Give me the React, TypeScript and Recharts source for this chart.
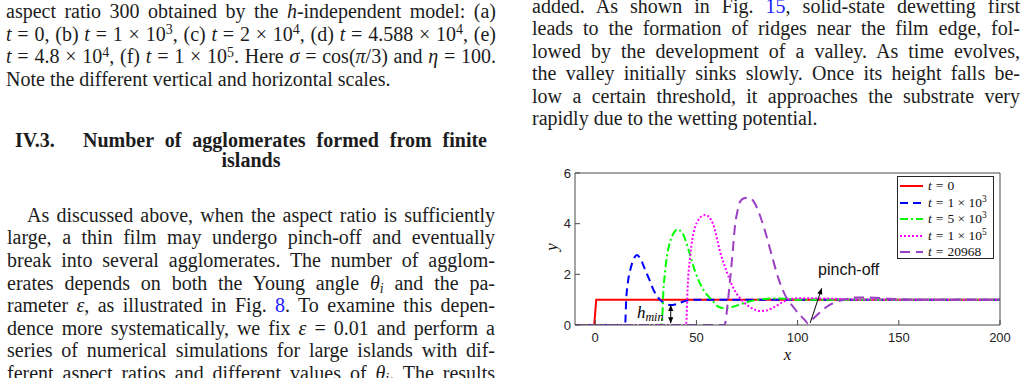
import React from 'react';
import { LineChart, Line, XAxis, YAxis, ReferenceLine, ReferenceDot, Legend, Label } from 'recharts';

// ---------- data ----------
const xTicks = [0, 50, 100, 150, 200];
const yTicks = [0, 2, 4, 6];

const t0X = [-10, -0.5, 0.5, 200];
const t0Y = [0, 0, 1, 1];

const t1e3X = [-10, 14, 14.8, 15.3, 16, 17.3, 18.5, 19.5, 20.6, 22, 24.7, 26.8, 28.8, 30.5, 32.1, 34, 36, 37.5, 39, 41, 43.6, 46, 50, 200];
const t1e3Y = [0, 0, 0.05, 1.0, 1.6, 2.17, 2.5, 2.68, 2.76, 2.66, 2.17, 1.78, 1.38, 1.15, 0.99, 0.86, 0.8, 0.79, 0.8, 0.85, 0.93, 0.98, 1.0, 1.0];

const t5e3X = [-10, 32.5, 33, 33.7, 34.5, 35.4, 36.5, 37.9, 39.3, 40.7, 42, 43.6, 46.1, 49.4, 53.5, 57.6, 60.9, 64.2, 68, 73.2, 79.8, 85, 90, 95, 100, 200];
const t5e3Y = [0, 0, 0.15, 1.38, 2.1, 2.7, 3.15, 3.49, 3.7, 3.78, 3.72, 3.55, 2.96, 2.1, 1.38, 0.99, 0.72, 0.66, 0.72, 0.86, 0.99, 1.04, 1.05, 1.03, 1.0, 1.0];

const t1e5X = [-10, 44.6, 45, 45.6, 46.9, 48, 49.4, 51, 52.7, 54.3, 56, 58.4, 61.7, 65, 68.3, 73.2, 78.2, 81.5, 84.5, 87.2, 90, 93, 96.3, 100, 110, 120, 130, 200];
const t1e5Y = [0, 0, 0.1, 1.38, 2.7, 3.4, 3.88, 4.15, 4.3, 4.34, 4.28, 3.95, 2.89, 2.1, 1.45, 0.92, 0.63, 0.55, 0.57, 0.66, 0.78, 0.92, 1.03, 1.06, 1.05, 1.03, 1.0, 1.0];

const t20968X = [-10, 63.8, 64.2, 65.5, 66.7, 68, 69.1, 70.3, 71.6, 73.5, 76.2, 78.5, 80.7, 84, 87.2, 90.5, 93.8, 97.1, 101.2, 103.5, 105, 107, 110, 114.4, 118, 122.6, 129.2, 135.8, 143.2, 150.6, 160, 200];
const t20968Y = [0, 0, 0.07, 0.9, 1.84, 2.95, 3.95, 4.5, 4.87, 5.0, 5.03, 4.85, 4.47, 3.68, 2.76, 1.84, 1.18, 0.79, 0.39, 0.2, 0.07, 0.2, 0.42, 0.72, 0.88, 0.99, 1.09, 1.09, 1.05, 1.01, 1.0, 1.0];

const seriesLabels = ['0', '1 × 10^3', '5 × 10^3', '1 × 10^5', '20968'];

const hminArrow = [{ x: 37.3, y: 0.07 }, { x: 37.3, y: 0.79 }];
const pinchArrow = [{ x: 106.2, y: 0.08 }, { x: 111.9, y: 1.45 }];
const hminLabelPos = { x: 20.6, y: 0.26 };
const pinchLabelPos = { x: 110.1, y: 1.97 };

const zip = (xs: number[], ys: number[]) => xs.map((x, i) => ({ x, y: ys[i] }));

const seriesStyles = [
  { color: '#ff0000', dash: undefined as string | undefined },
  { color: '#0000ff', dash: '8 5' },
  { color: '#00ff00', dash: '8 3 2 3' },
  { color: '#ff00ff', dash: '2 2' },
  { color: '#9b3fc4', dash: '10 6' },
];
const seriesData = [zip(t0X, t0Y), zip(t1e3X, t1e3Y), zip(t5e3X, t5e3Y), zip(t1e5X, t1e5Y), zip(t20968X, t20968Y)];

const SERIF = '"Liberation Serif", "Times New Roman", serif';
const SANS = '"Liberation Sans", Arial, sans-serif';
const AXIS = '#4a4a4a';

// ---------- helpers ----------
function arrowHead(x: number, y: number, ang: number, len = 6, half = 2.6) {
  const bx = x - len * Math.cos(ang);
  const by = y - len * Math.sin(ang);
  const px = -Math.sin(ang) * half;
  const py = Math.cos(ang) * half;
  return `${x},${y} ${bx + px},${by + py} ${bx - px},${by - py}`;
}

const DoubleArrow = (p: any) => {
  const { x1, y1, x2, y2 } = p;
  const a = Math.atan2(y2 - y1, x2 - x1);
  return (
    <g>
      <line x1={x1} y1={y1} x2={x2} y2={y2} stroke="#000" strokeWidth={1} />
      <polygon points={arrowHead(x2, y2, a)} fill="#000" />
      <polygon points={arrowHead(x1, y1, a + Math.PI)} fill="#000" />
    </g>
  );
};

const SingleArrow = (p: any) => {
  const { x1, y1, x2, y2 } = p;
  const a = Math.atan2(y2 - y1, x2 - x1);
  return (
    <g>
      <line x1={x1} y1={y1} x2={x2} y2={y2} stroke="#000" strokeWidth={1} />
      <polygon points={arrowHead(x2, y2, a)} fill="#000" />
    </g>
  );
};

const HminText = (p: any) => (
  <text x={p.cx} y={p.cy} fontFamily={SERIF} fontStyle="italic" fill="#000">
    <tspan fontSize={17}>h</tspan>
    <tspan fontSize={12} dy={3}>min</tspan>
  </text>
);

const PinchText = (p: any) => (
  <text x={p.cx} y={p.cy} fontFamily={SANS} fontSize={16} fill="#111">pinch-off</text>
);

function renderLabel(s: string) {
  const [base, exp] = s.split('^');
  return (
    <span>
      <i>t</i><span style={{ padding: '0 4px' }}>=</span>{base}
      {exp ? <sup style={{ fontSize: '0.7em', verticalAlign: 'baseline', position: 'relative', top: '-0.5em' }}>{exp}</sup> : null}
    </span>
  );
}

const LegendBox = () => (
  <div style={{ position: 'relative', width: 97, height: 83, boxSizing: 'border-box', border: '1px solid #262626', background: '#fff' }}>
    {seriesLabels.map((s, i) => (
      <div key={i} style={{ position: 'absolute', left: 2, top: 1 + 16.5 * i, height: 16, display: 'flex', alignItems: 'center', fontFamily: SERIF, fontSize: 13.5, color: '#111', whiteSpace: 'nowrap' }}>
        <svg width={23} height={6} style={{ marginRight: 5 }}>
          <line x1={0} y1={3} x2={23} y2={3} stroke={seriesStyles[i].color} strokeWidth={2} strokeDasharray={seriesStyles[i].dash} />
        </svg>
        {renderLabel(s)}
      </div>
    ))}
  </div>
);

// ---------- text ----------
function TextRow({ left, width, baseline, justify = true, size = 20, bold = false, children }: any) {
  return (
    <div
      style={{
        position: 'absolute',
        left,
        top: baseline - Math.round(size * 0.84),
        width,
        whiteSpace: 'nowrap',
        textAlign: justify ? 'justify' : 'left',
        textAlignLast: justify ? 'justify' : 'left',
        fontSize: size,
        lineHeight: `${size}px`,
        fontFamily: SERIF,
        fontWeight: bold ? 'bold' : 'normal',
        color: '#1c1c1c',
      } as any}
    >
      {children}
    </div>
  );
}

const Sup = ({ children }: any) => (
  <sup style={{ fontSize: '0.7em', verticalAlign: 'baseline', position: 'relative', top: '-0.45em', lineHeight: 0 }}>{children}</sup>
);
const Sub = ({ children }: any) => (
  <sub style={{ fontSize: '0.7em', verticalAlign: 'baseline', position: 'relative', top: '0.25em', lineHeight: 0 }}>{children}</sub>
);
const Ref = ({ children }: any) => <span style={{ color: '#1a1aff' }}>{children}</span>;

export default function App() {
  const L = 7;
  const LW = 488;
  const R = 532;
  const RW = 488;
  return (
    <div style={{ position: 'absolute', left: 0, top: 0, width: 1028, height: 378, overflow: 'hidden', background: '#fff' }}>
      {/* left column: caption */}
      <TextRow left={6} width={490} baseline={18}>aspect ratio 300 obtained by the <i>h</i>-independent model: (a)</TextRow>
      <TextRow left={6} width={490} baseline={40.5}>
        <i>t</i> = 0, (b) <i>t</i> = 1 × 10<Sup>3</Sup>, (c) <i>t</i> = 2 × 10<Sup>4</Sup>, (d) <i>t</i> = 4.588 × 10<Sup>4</Sup>, (e)
      </TextRow>
      <TextRow left={6} width={490} baseline={63}>
        <i>t</i> = 4.8 × 10<Sup>4</Sup>, (f) <i>t</i> = 1 × 10<Sup>5</Sup>. Here <i>σ</i> = cos(<i>π</i>/3) and <i>η</i> = 100.
      </TextRow>
      <TextRow left={6} width={490} baseline={85.5} justify={false}>Note the different vertical and horizontal scales.</TextRow>

      {/* heading */}
      <TextRow left={15} width={60} baseline={146.5} justify={false} bold>IV.3.</TextRow>
      <TextRow left={83} width={404} baseline={146.5} bold>Number of agglomerates formed from finite</TextRow>
      <div style={{ position: 'absolute', left: 0, width: 502, top: 166.5 - 17, textAlign: 'center', fontFamily: SERIF, fontSize: 20, lineHeight: '20px', fontWeight: 'bold', color: '#1c1c1c' }}>islands</div>

      {/* paragraph */}
      <TextRow left={27} width={468} baseline={221.7}>As discussed above, when the aspect ratio is sufficiently</TextRow>
      <TextRow left={L} width={LW} baseline={244.3}>large, a thin film may undergo pinch-off and eventually</TextRow>
      <TextRow left={L} width={LW} baseline={266.9}>break into several agglomerates. The number of agglom-</TextRow>
      <TextRow left={L} width={LW} baseline={289.5}>erates depends on both the Young angle <i>θ<Sub>i</Sub></i> and the pa-</TextRow>
      <TextRow left={L} width={LW} baseline={312.1}>rameter <i>ε</i>, as illustrated in Fig. <Ref>8</Ref>. To examine this depen-</TextRow>
      <TextRow left={L} width={LW} baseline={334.7}>dence more systematically, we fix <i>ε</i> = 0.01 and perform a</TextRow>
      <TextRow left={L} width={LW} baseline={357.3}>series of numerical simulations for large islands with dif-</TextRow>
      <TextRow left={L} width={LW} baseline={379.9}>ferent aspect ratios and different values of <i>θ<Sub>i</Sub></i>. The results</TextRow>

      {/* right column */}
      <TextRow left={R} width={RW} baseline={12.5}>added. As shown in Fig. <Ref>15</Ref>, solid-state dewetting first</TextRow>
      <TextRow left={R} width={RW} baseline={35}>leads to the formation of ridges near the film edge, fol-</TextRow>
      <TextRow left={R} width={RW} baseline={57.5}>lowed by the development of a valley. As time evolves,</TextRow>
      <TextRow left={R} width={RW} baseline={80}>the valley initially sinks slowly. Once its height falls be-</TextRow>
      <TextRow left={R} width={RW} baseline={102.5}>low a certain threshold, it approaches the substrate very</TextRow>
      <TextRow left={R} width={RW} baseline={125} justify={false}>rapidly due to the wetting potential.</TextRow>

      {/* chart */}
      <div style={{ position: 'absolute', left: 520, top: 160, width: 500, height: 218 }}>
        <LineChart width={500} height={218} margin={{ top: 12, right: 19, bottom: 23, left: 25 }}>
          <XAxis
            xAxisId={0}
            dataKey="x"
            type="number"
            domain={[-10, 200]}
            ticks={xTicks}
            allowDataOverflow
            height={30}
            tickSize={-5}
            tickMargin={13}
            stroke={AXIS}
            tick={{ fill: '#222', fontSize: 13, fontFamily: SANS }}
            interval={0}
          >
            <Label
              content={(p: any) => {
                const vb = p.viewBox;
                return (
                  <text x={vb.x + vb.width / 2} y={vb.y + 35} textAnchor="middle" fontFamily={SERIF} fontStyle="italic" fontSize={17} fill="#111">x</text>
                );
              }}
            />
          </XAxis>
          <XAxis
            xAxisId="top"
            orientation="top"
            dataKey="x"
            type="number"
            domain={[-10, 200]}
            ticks={xTicks}
            allowDataOverflow
            height={1}
            tickSize={-5}
            tick={false}
            stroke={AXIS}
            interval={0}
          />
          <YAxis
            yAxisId={0}
            type="number"
            domain={[0, 6]}
            ticks={yTicks}
            allowDataOverflow
            width={30}
            tickSize={-5}
            tickMargin={9}
            stroke={AXIS}
            tick={{ fill: '#222', fontSize: 13, fontFamily: SANS }}
            interval={0}
          >
            <Label
              content={(p: any) => {
                const vb = p.viewBox;
                const cx = vb.x + 12;
                const cy = vb.y + vb.height / 2 - 2;
                return (
                  <text x={cx} y={cy} transform={`rotate(-90, ${cx}, ${cy})`} textAnchor="middle" fontFamily={SERIF} fontStyle="italic" fontSize={17} fill="#111">y</text>
                );
              }}
            />
          </YAxis>
          <YAxis
            yAxisId="right"
            orientation="right"
            type="number"
            domain={[0, 6]}
            ticks={yTicks}
            allowDataOverflow
            width={1}
            tickSize={-5}
            tick={false}
            stroke={AXIS}
            interval={0}
          />
          {seriesData.map((d, i) => (
            <Line
              key={i}
              xAxisId={0}
              yAxisId={0}
              data={d}
              dataKey="y"
              type={i === 0 ? 'linear' : 'monotone'}
              stroke={seriesStyles[i].color}
              strokeWidth={2}
              strokeDasharray={seriesStyles[i].dash}
              dot={false}
              activeDot={false}
              isAnimationActive={false}
            />
          ))}
          <ReferenceLine xAxisId={0} yAxisId={0} segment={hminArrow} shape={DoubleArrow} />
          <ReferenceLine xAxisId={0} yAxisId={0} segment={pinchArrow} shape={SingleArrow} />
          <ReferenceDot xAxisId={0} yAxisId={0} x={hminLabelPos.x} y={hminLabelPos.y} shape={HminText} />
          <ReferenceDot xAxisId={0} yAxisId={0} x={pinchLabelPos.x} y={pinchLabelPos.y} shape={PinchText} />
          <Legend
            layout="vertical"
            align="center"
            verticalAlign="middle"
            wrapperStyle={{ left: 377, top: 16, width: 97, height: 83 }}
            content={() => <LegendBox />}
          />
        </LineChart>
      </div>
    </div>
  );
}
